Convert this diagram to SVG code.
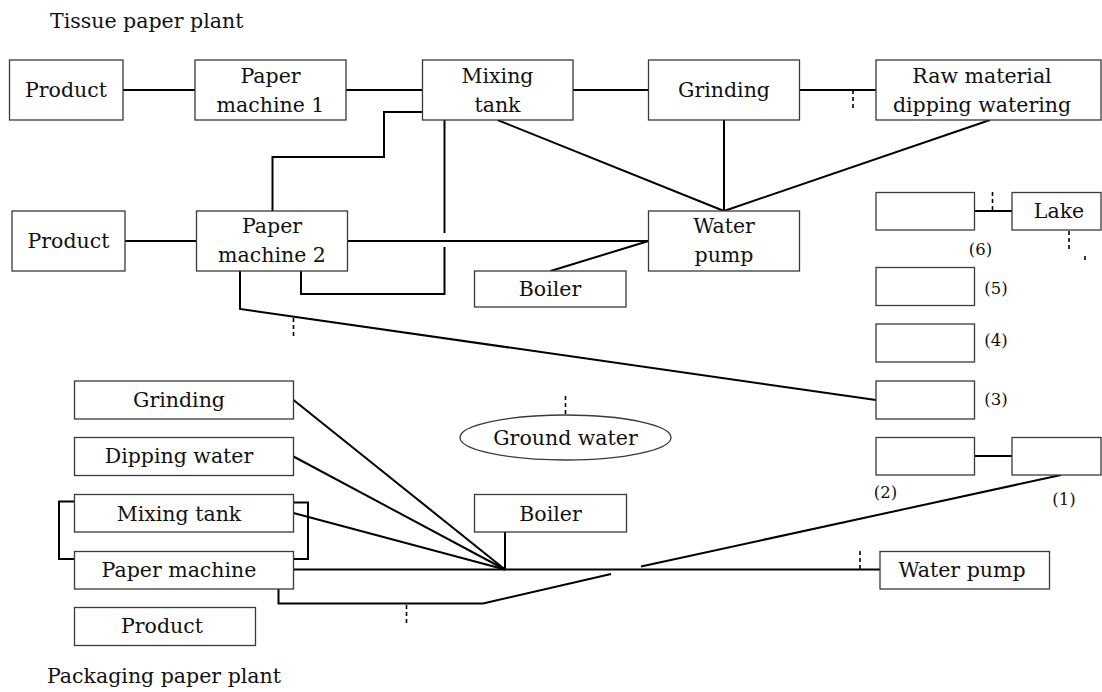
<svg xmlns="http://www.w3.org/2000/svg" width="1102" height="692" viewBox="0 0 1102 692">
  <style>
    .box { fill: #ffffff; stroke: #3a3a3a; stroke-width: 1.3; }
    .pipe { fill: none; stroke: #000000; stroke-width: 2; }
    .tick { fill: none; stroke: #000000; stroke-width: 1.6; stroke-dasharray: 4 3; }
    text { font-family: "DejaVu Serif", "Liberation Serif", serif; font-size: 20.5px; fill: #111111; }
    .c { text-anchor: middle; }
    .num { font-size: 16.5px; }
  </style>
  <rect x="0" y="0" width="1102" height="692" fill="#ffffff"/>

  <!-- plant titles -->
  <text id="title-tissue" x="50" y="28">Tissue paper plant</text>
  <text id="title-packaging" x="47" y="683">Packaging paper plant</text>

  <!-- pipes and flow lines -->
  <g id="connectors">
    <!-- tissue plant, top row -->
    <line class="pipe" x1="123" y1="90" x2="195" y2="90"/>
    <line class="pipe" x1="346" y1="90" x2="422.5" y2="90"/>
    <line class="pipe" x1="573" y1="90" x2="648.5" y2="90"/>
    <line class="pipe" x1="799.5" y1="90" x2="876" y2="90"/>
    <!-- feeds into the water pump -->
    <line class="pipe" x1="497.5" y1="120" x2="724" y2="211"/>
    <line class="pipe" x1="724" y1="120" x2="724" y2="211"/>
    <line class="pipe" x1="990" y1="120" x2="724" y2="211"/>
    <!-- mixing tank to paper machine 2 -->
    <polyline class="pipe" points="422.5,112 384,112 384,157 272.5,157 272.5,211"/>
    <line class="pipe" x1="444.5" y1="120" x2="444.5" y2="233"/>
    <polyline class="pipe" points="444.5,247 444.5,294 301,294 301,271"/>
    <!-- second row -->
    <line class="pipe" x1="125" y1="241" x2="196.5" y2="241"/>
    <line class="pipe" x1="347.5" y1="241" x2="648.5" y2="241"/>
    <line class="pipe" x1="550.5" y1="271" x2="648.5" y2="241"/>
    <!-- paper machine 2 discharge to (3) -->
    <polyline class="pipe" points="240,271 240,309 876,400"/>
    <!-- right column -->
    <line class="pipe" x1="974.5" y1="211" x2="1012" y2="211"/>
    <line class="pipe" x1="974.5" y1="456" x2="1012" y2="456"/>

    <!-- packaging plant -->
    <line class="pipe" x1="293.5" y1="400" x2="505" y2="569.5"/>
    <line class="pipe" x1="293.5" y1="456.5" x2="505" y2="569.5"/>
    <line class="pipe" x1="293.5" y1="513" x2="505" y2="569.5"/>
    <line class="pipe" x1="505" y1="532" x2="505" y2="569.5"/>
    <line class="pipe" x1="293.5" y1="569.5" x2="880" y2="569.5"/>
    <polyline class="pipe" points="74.5,501.5 59,501.5 59,559 74.5,559"/>
    <polyline class="pipe" points="293.5,502.5 308,502.5 308,559 293.5,559"/>
    <!-- paper machine discharge to (1), bridged over the main line -->
    <polyline class="pipe" points="278.5,589 278.5,603.5 483,603.5 611,574"/>
    <line class="pipe" x1="641" y1="566.5" x2="1061" y2="475"/>

    <!-- dashed markers -->
    <line class="tick" x1="853" y1="90" x2="853" y2="109"/>
    <line class="tick" x1="992.5" y1="192" x2="992.5" y2="211"/>
    <line class="tick" x1="1069" y1="231" x2="1069" y2="250"/>
    <line class="tick" x1="1085" y1="256" x2="1085" y2="260"/>
    <line class="tick" x1="293.5" y1="318" x2="293.5" y2="336"/>
    <line class="tick" x1="565.5" y1="396" x2="565.5" y2="415"/>
    <line class="tick" x1="860" y1="551" x2="860" y2="569.5"/>
    <line class="tick" x1="406.5" y1="605" x2="406.5" y2="626"/>
  </g>

  <!-- tissue paper plant -->
  <g id="t-product1"><rect class="box" x="9.5" y="60" width="113.5" height="60"/><text class="c" x="66" y="97">Product</text></g>
  <g id="t-paper-machine1"><rect class="box" x="195" y="60" width="151" height="60"/><text class="c" x="270.5" y="83">Paper</text><text class="c" x="270.5" y="111.5">machine 1</text></g>
  <g id="t-mixing-tank"><rect class="box" x="422.5" y="60" width="150.5" height="60"/><text class="c" x="497.5" y="83">Mixing</text><text class="c" x="497.5" y="111.5">tank</text></g>
  <g id="t-grinding"><rect class="box" x="648.5" y="60" width="151" height="60"/><text class="c" x="724" y="96.5">Grinding</text></g>
  <g id="t-raw-material"><rect class="box" x="876" y="60" width="225" height="60"/><text class="c" x="982" y="83">Raw material</text><text class="c" x="982" y="111.5">dipping watering</text></g>
  <g id="t-product2"><rect class="box" x="12" y="211" width="113" height="60"/><text class="c" x="68.5" y="248">Product</text></g>
  <g id="t-paper-machine2"><rect class="box" x="196.5" y="211" width="151" height="60"/><text class="c" x="272" y="233">Paper</text><text class="c" x="272" y="261.5">machine 2</text></g>
  <g id="t-water-pump"><rect class="box" x="648.5" y="211" width="151" height="60"/><text class="c" x="724" y="233">Water</text><text class="c" x="724" y="261.5">pump</text></g>
  <g id="t-boiler"><rect class="box" x="474.5" y="271" width="151.5" height="36"/><text class="c" x="550" y="296">Boiler</text></g>

  <!-- receiving waters -->
  <g id="r-6"><rect class="box" x="876" y="192.5" width="98.5" height="37.5"/><text class="c num" x="980.5" y="254.5">(6)</text></g>
  <g id="r-lake"><rect class="box" x="1012" y="192.5" width="89" height="37.5"/><text class="c" x="1059" y="218">Lake</text></g>
  <g id="r-5"><rect class="box" x="876" y="267.5" width="98.5" height="38"/><text class="c num" x="996" y="293.5">(5)</text></g>
  <g id="r-4"><rect class="box" x="876" y="324" width="98.5" height="38"/><text class="c num" x="996" y="345.5">(4)</text></g>
  <g id="r-3"><rect class="box" x="876" y="381" width="98.5" height="38"/><text class="c num" x="996" y="404.5">(3)</text></g>
  <g id="r-2"><rect class="box" x="876" y="437.5" width="98.5" height="37.5"/><text class="c num" x="885.5" y="498">(2)</text></g>
  <g id="r-1"><rect class="box" x="1012" y="437.5" width="89" height="37.5"/><text class="c num" x="1064" y="504.5">(1)</text></g>

  <!-- ground water -->
  <g id="ground-water"><ellipse class="box" cx="565.5" cy="437.5" rx="105.5" ry="22.5"/><text class="c" x="565.5" y="445">Ground water</text></g>

  <!-- packaging paper plant -->
  <g id="p-grinding"><rect class="box" x="74.5" y="381" width="219" height="38"/><text class="c" x="179" y="406.5">Grinding</text></g>
  <g id="p-dipping-water"><rect class="box" x="74.5" y="437.5" width="219" height="38"/><text class="c" x="179" y="463">Dipping water</text></g>
  <g id="p-mixing-tank"><rect class="box" x="74.5" y="494.5" width="219" height="37.5"/><text class="c" x="179" y="520.5">Mixing tank</text></g>
  <g id="p-paper-machine"><rect class="box" x="74.5" y="551.5" width="219" height="37.5"/><text class="c" x="179" y="577">Paper machine</text></g>
  <g id="p-product"><rect class="box" x="74.5" y="607.5" width="181" height="38"/><text class="c" x="162" y="633">Product</text></g>
  <g id="p-boiler"><rect class="box" x="474.5" y="494.5" width="152" height="37.5"/><text class="c" x="550.5" y="520.5">Boiler</text></g>
  <g id="p-water-pump"><rect class="box" x="880" y="551.5" width="169.5" height="37.5"/><text class="c" x="962" y="577">Water pump</text></g>
</svg>
